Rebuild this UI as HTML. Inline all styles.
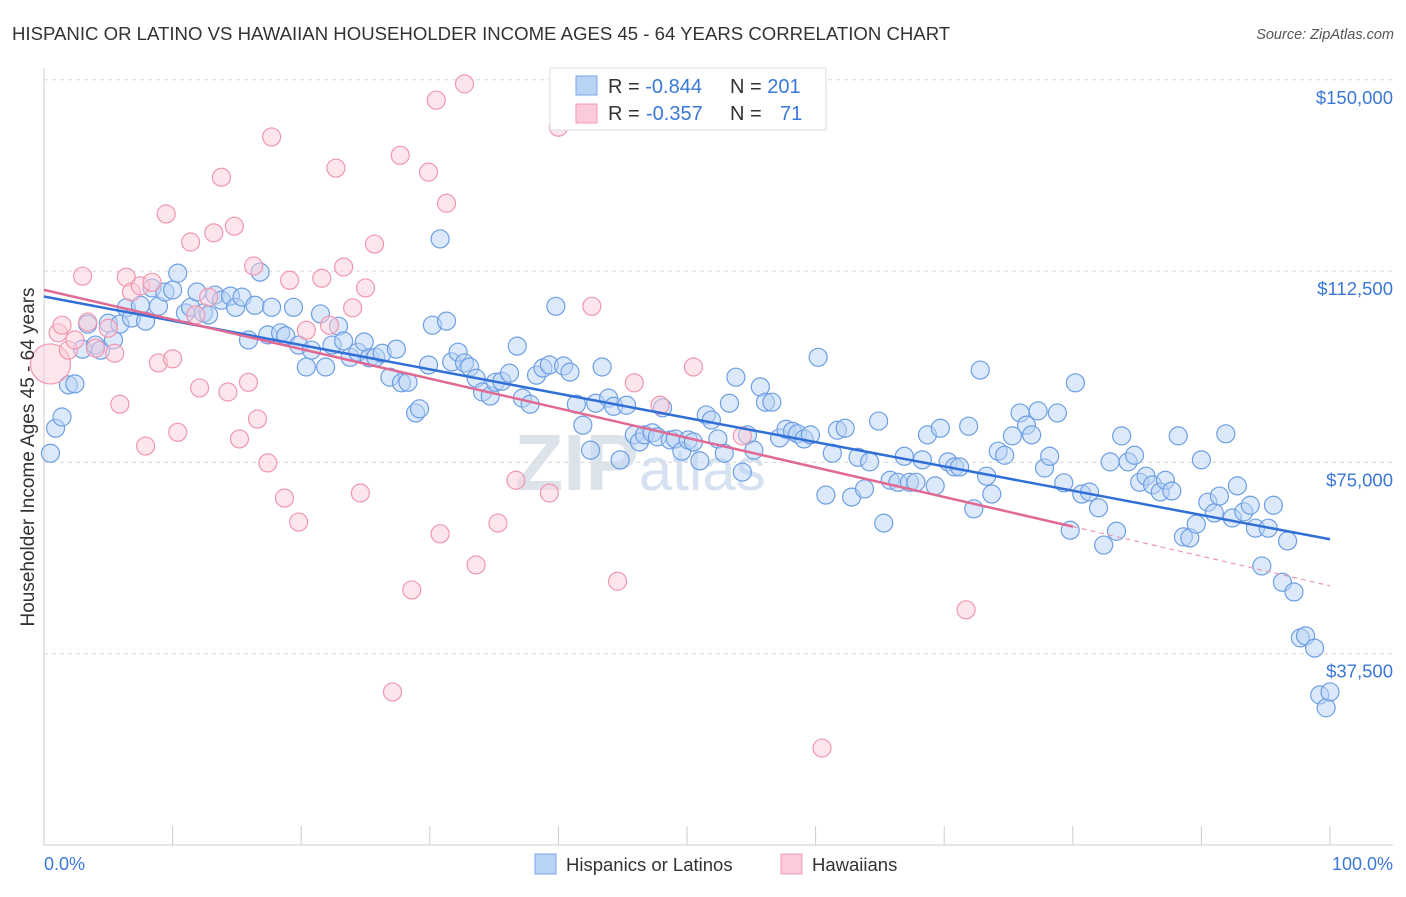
<!DOCTYPE html>
<html><head><meta charset="utf-8"><style>
body{margin:0;background:#fff;font-family:"Liberation Sans",sans-serif;}
svg text{font-family:"Liberation Sans",sans-serif;}
</style></head><body>
<svg id="chart" width="1406" height="892" viewBox="0 0 1406 892" xmlns="http://www.w3.org/2000/svg">
<text x="12" y="40" font-size="18.6" fill="#333">HISPANIC OR LATINO VS HAWAIIAN HOUSEHOLDER INCOME AGES 45 - 64 YEARS CORRELATION CHART</text>
<text x="1394" y="39" font-size="14.5" fill="#555" font-style="italic" text-anchor="end">Source: ZipAtlas.com</text>
<text x="640" y="490" font-size="80" fill="#dde3ea" font-weight="bold" text-anchor="middle">ZIP<tspan fill="#d6e2f2" font-weight="normal" font-size="60">atlas</tspan></text>
<g id="grid"></g>
<g id="axes"></g>
<g id="pts"></g>
<g id="lines"></g>
<text transform="translate(34,457) rotate(-90)" font-size="19" fill="#333" text-anchor="middle">Householder Income Ages 45 - 64 years</text>
<text x="44" y="870" font-size="18" fill="#3a78d8">0.0%</text>
<text x="1393" y="870" font-size="18" fill="#3a78d8" text-anchor="end">100.0%</text>
<g>
<rect x="550" y="68" width="276" height="62" fill="#fff" stroke="#ddd"/>
<rect x="576" y="76" width="21" height="19" fill="#b9d3f5" stroke="#7aa6e6"/>
<rect x="576" y="104" width="21" height="19" fill="#fccbd9" stroke="#f09ab2"/>
<text x="608" y="93" font-size="20" fill="#333">R = <tspan fill="#3a78d8">-0.844</tspan><tspan x="730">N = </tspan><tspan fill="#3a78d8">201</tspan></text>
<text x="608" y="120" font-size="20" fill="#333">R = <tspan fill="#3a78d8" x="646">-0.357</tspan><tspan x="730">N = </tspan><tspan fill="#3a78d8" x="780">71</tspan></text>
</g>
<g>
<rect x="535" y="854" width="21" height="20" fill="#b9d3f5" stroke="#7aa6e6"/>
<text x="566" y="871" font-size="18.5" fill="#333">Hispanics or Latinos</text>
<rect x="781" y="854" width="21" height="20" fill="#fccbd9" stroke="#f09ab2"/>
<text x="812" y="871" font-size="18.5" fill="#333">Hawaiians</text>
</g>
</svg>
<script>
const yTicks=[37.5,75,112.5,150];
const yTickLabels=["$37,500","$75,000","$112,500","$150,000"];
const blueX=[0.5,0.9,1.4,1.9,2.4,3.0,3.4,4.0,4.4,5.4,5.0,5.9,6.4,6.8,7.5,7.9,8.4,8.9,9.4,10.0,10.4,11.0,11.4,11.9,12.4,12.8,13.3,13.8,14.5,14.9,15.4,15.9,16.4,16.8,17.4,17.7,18.4,18.8,19.4,19.8,20.4,20.8,21.5,21.9,22.4,22.9,23.3,23.8,24.4,24.9,25.3,25.8,26.3,26.9,27.4,27.8,28.3,28.9,29.2,29.9,30.2,30.8,31.3,31.7,32.2,32.7,33.1,33.6,34.1,34.7,35.1,35.6,36.2,36.8,37.2,37.8,38.3,38.8,39.3,39.8,40.4,40.9,41.4,41.9,42.5,42.9,43.4,43.9,44.3,44.8,45.3,45.9,46.3,46.7,47.3,47.7,48.1,48.7,49.1,49.6,50.1,50.5,51.0,51.5,51.9,52.4,52.9,53.3,53.8,54.3,54.7,55.2,55.7,56.1,56.6,57.2,57.7,58.2,58.6,59.1,59.6,60.2,60.8,61.3,61.7,62.3,62.8,63.3,63.8,64.2,64.9,65.3,65.8,66.4,66.9,67.3,67.8,68.3,68.7,69.3,69.7,70.3,70.8,71.2,71.9,72.3,72.8,73.3,73.7,74.2,74.7,75.3,75.9,76.4,76.8,77.3,77.8,78.2,78.8,79.3,79.8,80.2,80.7,81.3,82.0,82.4,82.9,83.4,83.8,84.3,84.8,85.2,85.7,86.2,86.8,87.2,87.7,88.2,88.6,89.1,89.6,90.0,90.5,91.0,91.4,91.9,92.4,92.8,93.3,93.8,94.2,94.7,95.2,95.6,96.3,96.7,97.2,97.7,98.1,98.8,99.2,99.7,100];
const blueY=[76.8,81.7,83.9,90.2,90.4,97.2,102.1,98.0,97.0,99.0,102.3,102.1,105.3,103.3,105.8,102.7,109.2,105.6,108.4,108.8,112.1,104.3,105.4,108.4,104.3,103.9,107.8,106.8,107.6,105.4,107.4,99.0,105.8,112.3,100.0,105.4,100.4,99.8,105.4,98.0,93.7,97.0,104.1,93.7,98.0,101.7,98.8,95.6,96.6,98.6,95.5,95.6,96.4,91.7,97.2,90.6,90.7,84.7,85.5,94.1,101.9,118.8,102.7,94.7,96.6,94.5,93.7,91.5,88.8,88.0,90.7,90.9,92.5,97.8,87.6,86.4,92.1,93.5,94.1,105.6,93.9,92.7,86.4,82.3,77.4,86.6,93.7,87.6,86.0,75.5,86.2,80.4,79.0,80.4,80.8,80.0,85.7,79.4,79.6,77.2,79.4,79.0,75.3,84.3,83.3,79.6,76.8,86.6,91.7,73.1,80.4,77.4,89.8,86.8,86.8,79.8,81.5,81.1,80.6,79.6,80.4,95.6,68.6,76.8,81.3,81.7,68.2,76.0,69.8,75.1,83.1,63.1,71.5,71.1,76.2,71.1,71.1,75.5,80.4,70.4,81.7,75.1,74.1,74.1,82.1,65.9,93.1,72.3,68.8,77.2,76.4,80.2,84.7,82.3,80.4,85.1,73.9,76.2,84.7,71.0,61.7,90.6,68.8,69.2,66.1,58.8,75.1,61.5,80.2,75.1,76.4,71.1,72.3,70.6,69.2,71.5,69.4,80.2,60.4,60.2,62.9,75.5,67.2,65.1,68.4,80.6,64.1,70.4,65.3,66.6,62.1,54.7,62.1,66.6,51.5,59.6,49.6,40.6,41.0,38.6,29.4,26.9,30.0];
const pinkX=[0.5,1.1,1.4,1.9,2.4,3.0,3.4,4.0,5.0,5.5,5.9,6.4,6.8,7.5,7.9,8.4,8.9,9.5,10.0,10.4,11.4,11.8,12.1,12.8,13.2,13.8,14.3,14.8,15.2,15.9,16.3,16.6,17.4,17.7,18.7,19.1,19.8,20.4,21.6,22.2,22.7,23.3,24.0,24.6,25.0,25.7,27.1,27.7,28.6,29.9,30.5,30.8,31.3,32.7,33.6,35.3,36.7,39.3,40.0,42.6,44.6,45.9,47.9,50.5,54.3,60.5,71.7];
const pinkY=[94.3,100.4,101.9,97.0,99.0,111.5,102.5,97.4,101.3,96.4,86.4,111.3,108.4,109.6,78.2,110.3,94.5,123.7,95.3,80.9,118.2,103.9,89.6,107.4,120.0,130.9,88.8,121.3,79.6,90.7,113.5,83.5,74.9,138.8,68.0,110.7,63.3,100.9,111.1,101.9,132.7,113.3,105.3,69.0,109.2,117.8,30.0,135.2,50.0,131.9,146.0,61.0,125.8,149.2,54.9,63.1,71.5,69.0,140.7,105.6,51.7,90.6,86.2,93.7,80.2,19.0,46.1];

const NS="http://www.w3.org/2000/svg";
const X0=44,X1=1330,Y0=845,PX_PER_K=191.3/37.5;
const sx=p=>X0+p*(X1-X0)/100;
const sy=v=>Y0-v*PX_PER_K;
function mk(tag,attrs,parent){const e=document.createElementNS(NS,tag);for(const k in attrs)e.setAttribute(k,attrs[k]);document.getElementById(parent).appendChild(e);return e;}

yTicks.forEach((v,i)=>{
  const g=mk('line',{x1:X0,x2:1393,y1:sy(v),y2:sy(v),stroke:'#d8d8d8','stroke-dasharray':'4,4'},'grid');
  
  
  const t=mk('text',{x:1393,y:sy(v)+24,'font-size':18.5,fill:'#3a78d8','text-anchor':'end'},'grid');
  t.textContent=yTickLabels[i];
  
  
});
const ax=mk('line',{x1:X0,x2:X0,y1:68,y2:Y0,stroke:'#ccc'},'axes');


const bx=mk('line',{x1:X0,x2:1393,y1:Y0,y2:Y0,stroke:'#ccc'},'axes');


for(let k=0;k<=10;k++){
  const t=mk('line',{x1:sx(k*10),x2:sx(k*10),y1:826,y2:Y0,stroke:'#ccc'},'axes');
  
  
}
function dots(xs,ys,fill,stroke,name){
  xs.forEach((x,i)=>{
    const r=(name==='hawaiian-point'&&i===0)?20:9;
    const c=mk('circle',{cx:sx(x),cy:sy(ys[i]),r:r,fill:fill,'fill-opacity':0.5,stroke:stroke,'stroke-width':1.2},'pts');
    
    
  });
}
dots(blueX,blueY,'#b9d3f5','#6d9fe3','hispanic-point');
dots(pinkX,pinkY,'#fccbd9','#ef97b0','hawaiian-point');
function fit(xs,ys){const n=xs.length;let mx=0,my=0;for(let i=0;i<n;i++){mx+=xs[i];my+=ys[i];}mx/=n;my/=n;let sxy=0,sxx=0;for(let i=0;i<n;i++){sxy+=(xs[i]-mx)*(ys[i]-my);sxx+=(xs[i]-mx)**2;}const b=sxy/sxx;return[my-b*mx,b];}
const fb=fit(blueX,blueY),fp=fit(pinkX,pinkY);
const lb=mk('line',{x1:sx(0),y1:sy(fb[0]),x2:sx(100),y2:sy(fb[0]+fb[1]*100),stroke:'#2f6fd6','stroke-width':2.5},'lines');


const lp=mk('line',{x1:sx(0),y1:sy(fp[0]),x2:sx(80),y2:sy(fp[0]+fp[1]*80),stroke:'#e06a93','stroke-width':2.5},'lines');


const lpd=mk('line',{x1:sx(80),y1:sy(fp[0]+fp[1]*80),x2:sx(100),y2:sy(fp[0]+fp[1]*100),stroke:'#e89ab5','stroke-width':1.2,'stroke-dasharray':'5,4'},'lines');


</script>
</body></html>
